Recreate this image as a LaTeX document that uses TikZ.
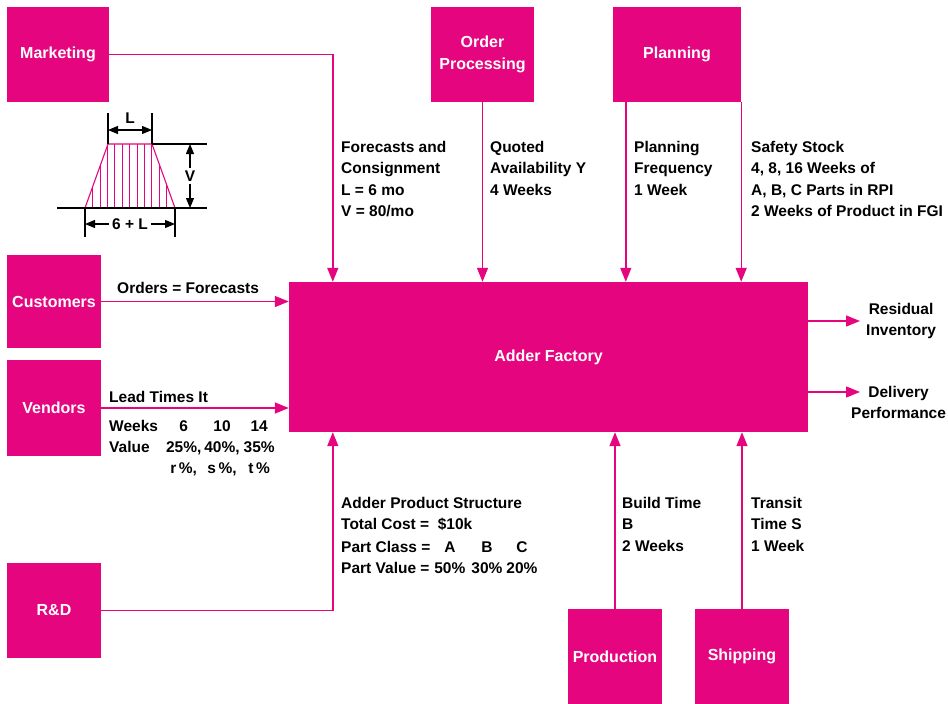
\documentclass[tikz,border=0pt]{standalone}
\usepackage{fontspec}
\setmainfont{Liberation Sans}
\usetikzlibrary{arrows.meta}
\definecolor{adder}{HTML}{E5067F}

\begin{document}
\begin{tikzpicture}[x=1pt, y=-1pt,
  blk/.style={fill=adder, text=white, inner sep=0pt, align=center,
              font=\bfseries\fontsize{16}{22}\selectfont},
  flow/.style={draw=adder, line width=1.4pt,
               -{Triangle[length=14pt, width=11pt]}},
  lbl/.style={anchor=north west, inner sep=0pt, align=left,
              font=\bfseries\fontsize{15.5}{21.4}\selectfont},
  dim/.style={draw=black, line width=1.1pt},
  dimarr/.style={dim, -{Triangle[length=10pt, width=8pt]}}
]
  \useasboundingbox (0,0) rectangle (948,704);

  % blocks round the factory
  \node[blk, minimum width=102, minimum height=95] (mkt) at (58,54.5)   {Marketing};
  \node[blk, minimum width=103, minimum height=95] (ord) at (482.5,54.5) {Order\\Processing};
  \node[blk, minimum width=128, minimum height=95] (pln) at (677,54.5)  {Planning};
  \node[blk, minimum width=94,  minimum height=93] (cus) at (54,301.5)  {Customers};
  \node[blk, minimum width=94,  minimum height=96] (ven) at (54,408)    {Vendors};
  \node[blk, minimum width=94,  minimum height=95] (rnd) at (54,610.5)  {R\&D};
  \node[blk, minimum width=94,  minimum height=95] (prd) at (615,656.5) {Production};
  \node[blk, minimum width=94,  minimum height=95] (shp) at (742,656.5) {Shipping};
  \node[blk, minimum width=519, minimum height=150] (fac) at (548.5,357) {Adder Factory};

  \coordinate (resid) at (860,321);
  \coordinate (deliv) at (860,392);

  % inputs
  \draw[flow] (mkt.east) -| ([xshift=44]fac.north west);
  \draw[flow] (ord.south) -- (ord.south |- fac.north);
  \draw[flow] ([xshift=13]pln.south west) -- ([xshift=13]pln.south west |- fac.north);
  \draw[flow] (pln.south east) -- (pln.south east |- fac.north);
  \draw[flow] (cus.east) -- (cus.east -| fac.west);
  \draw[flow] (ven.east) -- (ven.east -| fac.west);
  \draw[flow] (rnd.east) -| ([xshift=44]fac.south west);
  \draw[flow] (prd.north) -- (prd.north |- fac.south);
  \draw[flow] (shp.north) -- (shp.north |- fac.south);
  % outputs
  \draw[flow] (fac.east |- resid) -- (resid);
  \draw[flow] (fac.east |- deliv) -- (deliv);

  \node[lbl, anchor=west, align=center] (resl) at (resid) {\hspace{6pt}Residual\\\hspace{6pt}Inventory};
  \node[lbl, align=center] (dell) at (851,386) {Delivery\\Performance};

  % labels on the connectors
  \node[lbl] (fcl) at (341,141) {Forecasts and\\Consignment\\L = 6 mo\\V = 80/mo};
  \node[lbl] (qal) at (490,141) {Quoted\\Availability Y\\4 Weeks};
  \node[lbl] (pfl) at (634,141) {Planning\\Frequency\\1 Week};
  \node[lbl] (ssl) at (751,141) {Safety Stock\\4, 8, 16 Weeks of\\A, B, C Parts in RPI\\2 Weeks of Product in FGI};
  \node[lbl] (orl) at (117,282) {Orders = Forecasts};
  \node[lbl] (ltl) at (109,391) {Lead Times It};
  \node[lbl] (ltt) at (109,416) {%
    \begin{tabular}{@{}l@{\hspace{8pt}}c@{\hspace{3pt}}c@{\hspace{4pt}}c@{}}
      Weeks & 6 & 10 & 14\\
      Value & 25\%, & 40\%, & 35\%\\
            & r\,\%, & s\,\%, & t\,\%
    \end{tabular}};
  \node[lbl] (psl) at (341,497) {Adder Product Structure\\Total Cost = \ \$10k};
  \node[lbl] (pst) at (341,537) {%
    \begin{tabular}{@{}l@{\hspace{4pt}}c@{\hspace{6pt}}c@{\hspace{4pt}}c@{}}
      Part Class = & A & B & C\\
      Part Value = & 50\% & 30\% & 20\%
    \end{tabular}};
  \node[lbl] (btl) at (622,497) {Build Time\\B\\2 Weeks};
  \node[lbl] (tsl) at (751,497) {Transit\\Time S\\1 Week};

  % consignment profile sketch
  \begin{scope}
    \clip (85,208) -- (108,144) -- (152,144) -- (175,208) -- cycle;
    \foreach \hx in {0,...,10}
      \draw[adder, line width=1pt] ({92.7+7.4*\hx},140) -- ++(0,72);
  \end{scope}
  \draw[adder, line width=1.1pt] (85,208) -- (108,144) -- (152,144) -- (175,208);
  \draw[dim] (57,208) -- (207,208);
  \draw[dim] (152,144) -- (207,144);
  \draw[dim] (108,113) -- (108,144);
  \draw[dim] (152,113) -- (152,144);
  \draw[dim] (85,208) -- (85,237);
  \draw[dim] (175,208) -- (175,237);
  \draw[dim, {Triangle[length=10pt, width=8pt]}-{Triangle[length=10pt, width=8pt]}] (108,130) -- (152,130);
  \node[lbl, anchor=center] (lw) at (130,118) {L};
  \node[lbl, anchor=center, inner sep=2pt] (vh) at (190,176) {V};
  \draw[dimarr] (vh.north) -- (190,144);
  \draw[dimarr] (vh.south) -- (190,208);
  \node[lbl, anchor=center] (bw) at (130,224) {6 + L};
  \draw[dimarr] ([xshift=-3pt]bw.west) -- (85,224);
  \draw[dimarr] ([xshift=3pt]bw.east) -- (175,224);
\end{tikzpicture}
\end{document}
